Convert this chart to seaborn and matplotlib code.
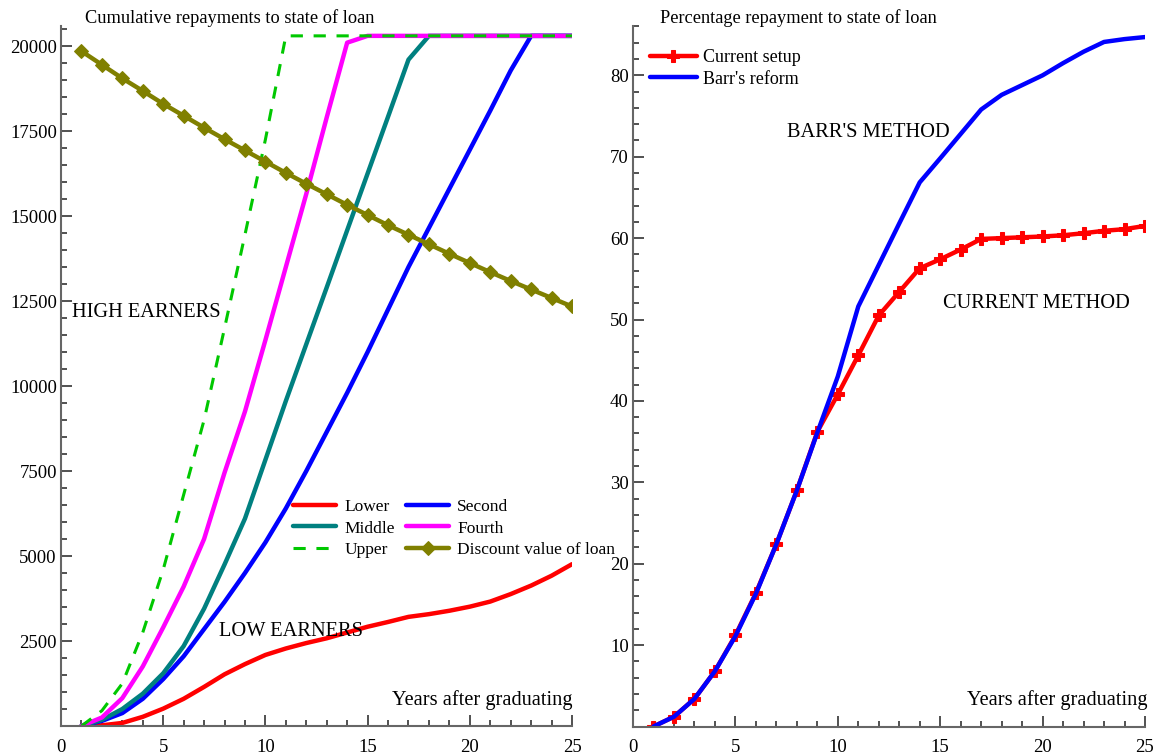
import numpy as np
import pandas as pd
import seaborn as sns
import matplotlib
matplotlib.use("Agg")
import matplotlib.pyplot as plt
from matplotlib.ticker import MultipleLocator, FixedLocator

# ---------------- data ----------------
years = list(range(1, 26))

lower = [0, 20, 90, 270, 510, 800, 1150, 1520, 1820, 2090, 2280, 2440, 2580,
         2750, 2920, 3060, 3210, 3290, 3390, 3510, 3660, 3880, 4130, 4420, 4760]
second = [0, 150, 380, 800, 1380, 2050, 2850, 3650, 4500, 5400, 6400, 7500, 8650,
          9800, 11000, 12250, 13500, 14650, 15800, 16950, 18100, 19280, 20300, 20300, 20300]
middle = [0, 180, 500, 950, 1550, 2350, 3450, 4750, 6100, 7830, 9560, 11230, 12900,
          14580, 16250, 17920, 19600, 20300, 20300, 20300, 20300, 20300, 20300, 20300, 20300]
fourth = [0, 250, 820, 1750, 2900, 4100, 5500, 7450, 9250, 11350, 13500, 15650, 17900,
          20100, 20300, 20300, 20300, 20300, 20300, 20300, 20300, 20300, 20300, 20300, 20300]
upper = [0, 450, 1250, 2750, 4600, 6800, 9000, 11700, 14450, 17250, 20300, 20300, 20300,
         20300, 20300, 20300, 20300, 20300, 20300, 20300, 20300, 20300, 20300, 20300, 20300]
discount = [19850, 19450, 19050, 18680, 18300, 17950, 17600, 17260, 16930, 16600,
            16270, 15950, 15640, 15330, 15030, 14730, 14450, 14170, 13890, 13620,
            13350, 13090, 12840, 12590, 12340]

current_setup = [0, 1.2, 3.4, 6.8, 11.2, 16.4, 22.4, 29.0, 36.2, 40.8, 45.6, 50.5,
                 53.4, 56.3, 57.4, 58.6, 59.9, 60.0, 60.1, 60.2, 60.35, 60.6, 60.9, 61.1, 61.5]
barr_reform = [0, 1.2, 3.4, 6.8, 11.1, 16.3, 22.4, 29.0, 36.1, 43.0, 51.6, 56.7,
               61.8, 66.85, 69.8, 72.8, 75.8, 77.6, 78.8, 80.0, 81.5, 82.9, 84.1, 84.45, 84.7]

left_yticks = [2500, 5000, 7500, 10000, 12500, 15000, 17500, 20000]
right_yticks = [10, 20, 30, 40, 50, 60, 70, 80]
xticks = [0, 5, 10, 15, 20, 25]

# ---------------- style ----------------
sns.set_theme(style="ticks")
plt.rcParams['font.family'] = ['Liberation Serif', 'DejaVu Serif']
plt.rcParams['axes.linewidth'] = 1.5
plt.rcParams['text.color'] = 'black'
plt.rcParams['legend.labelcolor'] = 'black'

W, H = 1159, 755
fig = plt.figure(figsize=(W / 100, H / 100), dpi=100)
ax1 = fig.add_axes([61 / W, 1 - 726 / H, 511 / W, 700 / H])
ax2 = fig.add_axes([633 / W, 1 - 726.5 / H, 512 / W, 700.5 / H])

lw = 3.2
sns.lineplot(x=years, y=lower, ax=ax1, color='#ff0000', lw=lw, label='Lower')
sns.lineplot(x=years, y=second, ax=ax1, color='#0000ff', lw=lw, label='Second')
sns.lineplot(x=years, y=middle, ax=ax1, color='#008080', lw=lw, label='Middle')
sns.lineplot(x=years, y=fourth, ax=ax1, color='#ff00ff', lw=lw, label='Fourth')
sns.lineplot(x=years, y=upper, ax=ax1, color='#00c800', lw=2.2, linestyle=(0, (4, 3.5)), label='Upper')
sns.lineplot(x=years, y=discount, ax=ax1, color='#808000', lw=lw, marker='D', markersize=7,
             markeredgecolor='#808000', label='Discount value of loan')

sns.lineplot(x=years, y=current_setup, ax=ax2, color='#ff0000', lw=lw, marker='P', markersize=9,
             markeredgecolor='#ff0000', label='Current setup')
sns.lineplot(x=years, y=barr_reform, ax=ax2, color='#0000ff', lw=lw, label="Barr's reform")

for ax in (ax1, ax2):
    for s in ('top', 'right'):
        ax.spines[s].set_visible(False)
    for s in ('left', 'bottom'):
        ax.spines[s].set_color('#666666')
    ax.set_xlim(0, 25)
    ax.xaxis.set_major_locator(FixedLocator(xticks))
    ax.xaxis.set_minor_locator(MultipleLocator(1))
    ax.tick_params(which='major', direction='in', length=8, width=1.2, color='#333333',
                   labelsize=13.5, labelcolor='black')
    ax.tick_params(which='minor', direction='in', length=4, width=1.2, color='#333333')
    ax.tick_params(axis='x', pad=9)
    ax.tick_params(axis='y', pad=3)
    ax.set_xlabel('')
    ax.set_ylabel('')

ax1.set_ylim(0, 20590)
ax1.yaxis.set_major_locator(FixedLocator(left_yticks))
ax1.yaxis.set_minor_locator(MultipleLocator(500))
ax2.set_ylim(0, 86.06)
ax2.yaxis.set_major_locator(FixedLocator(right_yticks))
ax2.yaxis.set_minor_locator(MultipleLocator(2))

# titles
fig.text(85 / W, 1 - 18 / H, 'Cumulative repayments to state of loan', fontsize=13.2,
         va='center', ha='left', color='black')
fig.text(660 / W, 1 - 18 / H, 'Percentage repayment to state of loan', fontsize=13.2,
         va='center', ha='left', color='black')

# annotations
ann = 14.7
ax1.text(0.54, 12176, 'HIGH EARNERS', fontsize=ann, va='center', ha='left', color='black')
ax1.text(7.73, 2794, 'LOW EARNERS', fontsize=ann, va='center', ha='left', color='black')
ax1.text(25, 765, 'Years after graduating', fontsize=ann, va='center', ha='right', color='black')
ax2.text(7.52, 73.0, "BARR'S METHOD", fontsize=ann, va='center', ha='left', color='black')
ax2.text(15.14, 52.0, 'CURRENT METHOD', fontsize=ann, va='center', ha='left', color='black')
ax2.text(25.1, 3.25, 'Years after graduating', fontsize=ann, va='center', ha='right', color='black')

# legends
h, l = ax1.get_legend_handles_labels()
d = dict(zip(l, h))
order = ['Lower', 'Middle', 'Upper', 'Second', 'Fourth', 'Discount value of loan']
ax1.legend([d[k] for k in order], order, ncol=2, frameon=False, fontsize=12.5,
           loc='upper left', bbox_to_anchor=((293 - 61) / 511, (726 - 499) / 700),
           borderaxespad=0, borderpad=0, handlelength=2.5, handletextpad=0.45,
           columnspacing=0.65, labelspacing=0.3, labelcolor='black')
h2, l2 = ax2.get_legend_handles_labels()
ax2.legend(h2, l2, frameon=False, fontsize=13, loc='upper left',
           bbox_to_anchor=((650 - 633) / 512, (726.5 - 49) / 700.5),
           borderaxespad=0, borderpad=0, handlelength=2.6, handletextpad=0.35,
           labelspacing=0.25, labelcolor='black')

fig.savefig('out.png', dpi=100)
